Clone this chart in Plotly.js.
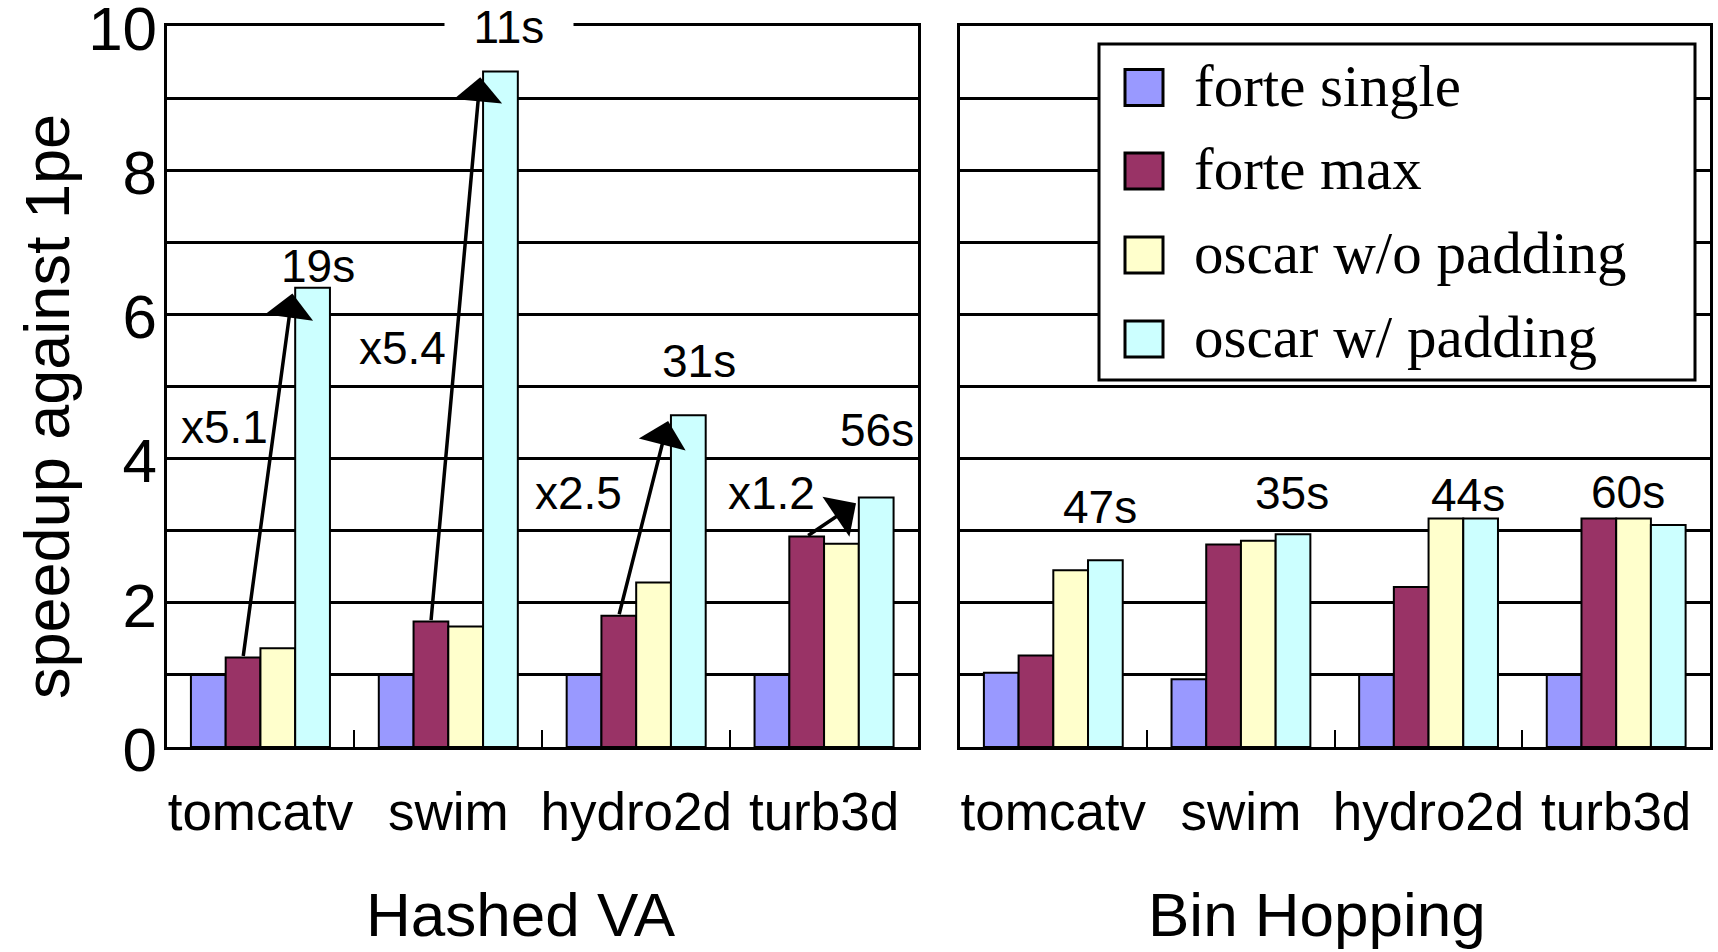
<!DOCTYPE html>
<html><head><meta charset="utf-8">
<script src="https://cdn.plot.ly/plotly-3.0.1.min.js"></script>
<style>html,body{margin:0;padding:0;background:#fff}#chart{width:1718px;height:952px}</style>
</head><body><div id="chart"></div>
<script>
// ---- data ----
const benchmarks = ['tomcatv', 'swim', 'hydro2d', 'turb3d'];
const seriesNames = ['forte single', 'forte max', 'oscar w/o padding', 'oscar w/ padding'];
const seriesColors = ['#9999FF', '#993366', '#FFFFCC', '#CCFFFF'];

// Hashed VA panel
const hashedForteSingle = [1.0, 1.0, 1.0, 1.0];
const hashedForteMax    = [1.24, 1.74, 1.82, 2.92];
const hashedOscarNoPad  = [1.37, 1.67, 2.28, 2.82];
const hashedOscarPad    = [6.37, 9.37, 4.60, 3.46];

// Bin Hopping panel
const binForteSingle = [1.03, 0.94, 1.0, 1.0];
const binForteMax    = [1.27, 2.81, 2.22, 3.17];
const binOscarNoPad  = [2.45, 2.86, 3.17, 3.17];
const binOscarPad    = [2.59, 2.95, 3.17, 3.08];

const improvementLabels = ['x5.1', 'x5.4', 'x2.5', 'x1.2'];
const hashedTimeLabels  = ['19s', '11s', '31s', '56s'];
const binTimeLabels     = ['47s', '35s', '44s', '60s'];
const panelTitles = ['Hashed VA', 'Bin Hopping'];
const yTitle = 'speedup against 1pe';
const yTickVals = [0, 2, 4, 6, 8, 10];

// ---- build ----
const SANS = 'Liberation Sans, Arial, sans-serif';
const SERIF = 'Liberation Serif, Times New Roman, serif';
const bargap = 0.26;
const bw = (1 - bargap) / 4;

const hashedSeries = [hashedForteSingle, hashedForteMax, hashedOscarNoPad, hashedOscarPad];
const binSeries = [binForteSingle, binForteMax, binOscarNoPad, binOscarPad];

const traces = [];
[[hashedSeries, 'x', 'y'], [binSeries, 'x2', 'y2']].forEach(([series, xa, ya]) => {
  series.forEach((vals, k) => {
    traces.push({
      type: 'bar', x: benchmarks, y: vals, name: seriesNames[k],
      xaxis: xa, yaxis: ya, showlegend: false,
      marker: {color: seriesColors[k], line: {color: '#000', width: 2}},
      hoverinfo: 'x+y+name'
    });
  });
});

const yDomain = [1 - 747 / 952, 1 - 26 / 952];
function xAxis(domain, anchor) {
  return {
    domain: domain, anchor: anchor, type: 'category', range: [-0.5, 3.5],
    showline: true, linecolor: '#000', linewidth: 3, mirror: true,
    ticks: 'inside', tickson: 'boundaries', ticklen: 17, tickwidth: 2, tickcolor: '#000',
    showgrid: false, zeroline: false, automargin: false, tickangle: 0,
    tickfont: {family: SANS, size: 53, color: '#000'}, ticklabelstandoff: 16
  };
}
function yAxis(anchor, showLabels) {
  return {
    domain: yDomain, anchor: anchor, range: [0, 10],
    tickvals: yTickVals, ticks: '', showticklabels: showLabels,
    showline: true, linecolor: '#000', linewidth: 3, mirror: true,
    showgrid: true, gridcolor: '#000', gridwidth: 3, zeroline: false,
    minor: {dtick: 1, showgrid: true, gridcolor: '#000', gridwidth: 3, ticks: ''},
    automargin: false, ticklabelstandoff: -6, ticklabelshift: 2, ticklabeloverflow: 'allow',
    tickfont: {family: SANS, size: 62, color: '#000'}
  };
}

const annotations = [];
const shapes = [];

// arrows (forte max -> oscar w/ padding) in Hashed VA panel
benchmarks.forEach((b, i) => {
  annotations.push({
    xref: 'x', yref: 'y', axref: 'x', ayref: 'y',
    x: i + 0.17, y: hashedOscarPad[i] - 0.08,
    ax: i - bw / 2, ay: hashedForteMax[i],
    text: '', showarrow: true, arrowhead: 1, arrowsize: 2.3, arrowwidth: 3.5,
    arrowcolor: '#000', standoff: 0, startstandoff: 0, font: {size: 1}
  });
});

const labelFont = {family: SANS, size: 46, color: '#000'};
const improvePos = [[-0.191, 4.44], [0.754, 5.53], [1.694, 3.52], [2.721, 3.52]];
improvementLabels.forEach((t, i) => {
  annotations.push({xref: 'x', yref: 'y', x: improvePos[i][0], y: improvePos[i][1],
    text: t, showarrow: false, font: labelFont, xanchor: 'center', yanchor: 'middle'});
});
const hashedTimePos = [[0.306, 6.67], [1.324, 9.98], [2.335, 5.35], [3.281, 4.39]];
hashedTimeLabels.forEach((t, i) => {
  const a = {xref: 'x', yref: 'y', x: hashedTimePos[i][0], y: hashedTimePos[i][1],
    text: t, showarrow: false, font: labelFont, xanchor: 'center', yanchor: 'middle'};
  if (i === 1) { a.bgcolor = '#fff'; a.width = 128; a.borderpad = 0; }
  annotations.push(a);
});
const binTimePos = [[0.249, 3.33], [1.271, 3.52], [2.211, 3.50], [3.063, 3.54]];
binTimeLabels.forEach((t, i) => {
  annotations.push({xref: 'x2', yref: 'y2', x: binTimePos[i][0], y: binTimePos[i][1],
    text: t, showarrow: false, font: labelFont, xanchor: 'center', yanchor: 'middle'});
});

const W = 1718, H = 952;

// y-axis title (rotated text)
annotations.push({xref: 'paper', yref: 'paper', x: 47 / W, y: 1 - 407 / H,
  text: yTitle, textangle: -90, showarrow: false, xanchor: 'center', yanchor: 'middle',
  font: {family: SANS, size: 63, color: '#000'}});

// panel titles
const titleX = [521 / W, 1317 / W];
panelTitles.forEach((t, i) => {
  annotations.push({xref: 'paper', yref: 'paper', x: titleX[i], y: 1 - 914 / H,
    text: t, showarrow: false, xanchor: 'center', yanchor: 'middle',
    font: {family: SANS, size: 62, color: '#000'}});
});

// legend (custom, large swatches)
shapes.push({type: 'rect', xref: 'paper', yref: 'paper',
  x0: 1099 / W, x1: 1695 / W, y0: 1 - 380 / H, y1: 1 - 44 / H,
  fillcolor: '#fff', line: {color: '#000', width: 3}, layer: 'above'});
const rowY = [87.5, 171, 255, 339];
seriesNames.forEach((n, k) => {
  const cy = rowY[k];
  shapes.push({type: 'rect', xref: 'paper', yref: 'paper',
    x0: 1125 / W, x1: 1163 / W, y0: 1 - (cy + 18) / H, y1: 1 - (cy - 18) / H,
    fillcolor: seriesColors[k], line: {color: '#000', width: 3}, layer: 'above'});
  annotations.push({xref: 'paper', yref: 'paper', x: 1192 / W, y: 1 - (cy - 2) / H,
    text: n, showarrow: false, xanchor: 'left', yanchor: 'middle',
    font: {family: SERIF, size: 59, color: '#000'}});
});

const layout = {
  width: 1718, height: 952,
  margin: {l: 0, r: 0, t: 0, b: 0, pad: 0},
  paper_bgcolor: '#fff', plot_bgcolor: '#fff',
  barmode: 'group', bargap: bargap, bargroupgap: 0,
  showlegend: false,
  xaxis: xAxis([166.5 / W, 918 / W], 'y'),
  xaxis2: xAxis([959.5 / W, 1710 / W], 'y2'),
  yaxis: yAxis('x', true),
  yaxis2: yAxis('x2', false),
  annotations: annotations,
  shapes: shapes,
  font: {family: SANS, color: '#000'}
};

Plotly.newPlot('chart', traces, layout, {displayModeBar: false, staticPlot: true});
</script>
</body></html>
